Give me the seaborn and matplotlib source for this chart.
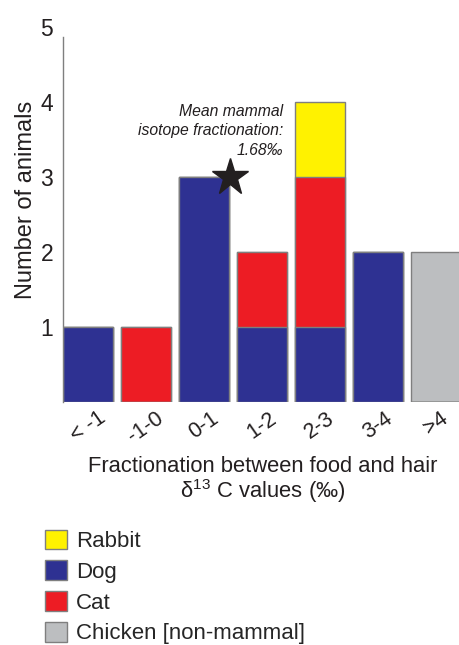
import numpy as np
import pandas as pd
import matplotlib
matplotlib.use('Agg')
import matplotlib.pyplot as plt
from matplotlib.patches import Patch
import seaborn as sns

# counts of animals per fractionation bin (stacked: dog, cat, rabbit; chicken separate)
bins = ['< -1', '-1-0', '0-1', '1-2', '2-3', '3-4', '>4']
dog = [1, 0, 3, 1, 1, 2, 0]
cat = [0, 1, 0, 1, 2, 0, 0]
rabbit = [0, 0, 0, 0, 1, 0, 0]
chicken = [0, 0, 0, 0, 0, 0, 2]
star_x, star_y = 2.45, 3.0
yticks = [1, 2, 3, 4, 5]

col_rabbit = '#fff200'
col_dog = '#2e3192'
col_cat = '#ed1c24'
col_chicken = '#bcbec0'
edge = '#7f7f7f'
txt = '#231f20'

sns.set_style('white')
plt.rcParams['font.family'] = ['Liberation Sans', 'DejaVu Sans']
plt.rcParams['mathtext.default'] = 'regular'

df = pd.DataFrame({'bin': bins, 'dog': dog, 'cat': cat, 'rabbit': rabbit, 'chicken': chicken})
df['dog_cat'] = df['dog'] + df['cat']
df['all'] = df['dog_cat'] + df['rabbit']

fig = plt.figure(figsize=(4.59, 6.45), dpi=100)
ax = fig.add_axes([0.1373, 0.3767, 0.8715, 0.5814])

kw = dict(ax=ax, width=0.86, edgecolor=edge, linewidth=1.0, errorbar=None, saturation=1)
sns.barplot(data=df, x='bin', y='chicken', color=col_chicken, **kw)
sns.barplot(data=df, x='bin', y='all', color=col_rabbit, **kw)
sns.barplot(data=df, x='bin', y='dog_cat', color=col_cat, **kw)
sns.barplot(data=df, x='bin', y='dog', color=col_dog, **kw)

ax.plot(star_x, star_y, marker='*', ms=28, color=txt, clip_on=False, zorder=5)
ax.text(3.37, 3.98, 'Mean mammal\nisotope fractionation:\n1.68‰', ha='right', va='top',
        fontsize=11.3, style='italic', color=txt, linespacing=1.4)

ax.set_xlim(-0.431, 6.469)
ax.set_ylim(0, 5)
ax.set_yticks(yticks)
ax.set_yticklabels([str(t) for t in yticks], fontsize=16.5, color=txt)
ax.set_xticks(range(len(bins)))
ax.set_xticklabels(bins, rotation=35, ha='center', fontsize=15.5, color=txt)
ax.tick_params(axis='both', length=0)
ax.tick_params(axis='y', pad=7)
ax.tick_params(axis='x', pad=4)
for s in ['top', 'right', 'bottom']:
    ax.spines[s].set_visible(False)
ax.spines['left'].set_color(edge)
ax.spines['left'].set_linewidth(1.0)
ax.spines['left'].set_bounds(0, 4.87)

ax.set_ylabel('Number of animals', fontsize=17, color=txt)
ax.yaxis.set_label_coords(-0.066, 0.54)
ax.set_xlabel('Fractionation between food and hair\nδ$^{13}$ C values (‰)', fontsize=15.8,
              color=txt, linespacing=1.0)
ax.xaxis.set_label_coords(0.5, -0.143)

handles = [Patch(facecolor=col_rabbit, edgecolor=edge, label='Rabbit'),
           Patch(facecolor=col_dog, edgecolor=edge, label='Dog'),
           Patch(facecolor=col_cat, edgecolor=edge, label='Cat'),
           Patch(facecolor=col_chicken, edgecolor=edge, label='Chicken [non-mammal]')]
fig.legend(handles=handles, loc='upper left', bbox_to_anchor=(0.097, 0.179), frameon=False,
           fontsize=16, handlelength=1.0, handleheight=1.0, handletextpad=0.4,
           labelspacing=0.37, borderpad=0, borderaxespad=0)

fig.savefig('out.png', dpi=100)
